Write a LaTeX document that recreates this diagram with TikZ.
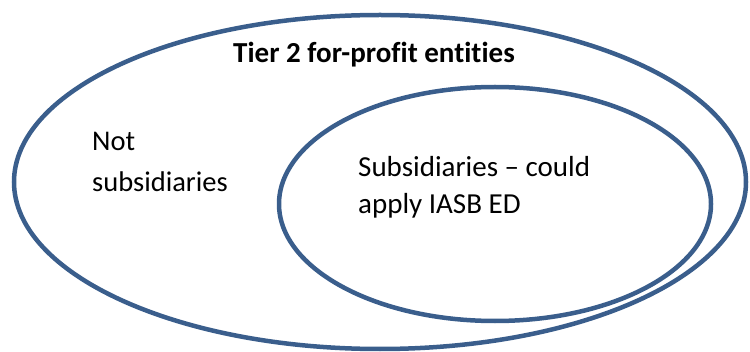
\documentclass[tikz,border=0pt]{standalone}
\usepackage{fontspec}
\setmainfont[Ligatures=NoCommon]{Carlito}
\usetikzlibrary{positioning,shapes.geometric}
\definecolor{setblue}{RGB}{58,94,140}
\tikzstyle{set} = [ellipse,draw=setblue,line width=4.5pt,inner sep=0]
\tikzstyle{lbl} = [anchor=base west,inner sep=0,align=left]

\begin{document}
\begin{tikzpicture}[x=1pt,y=1pt]

     \useasboundingbox (0,0) rectangle (750,351);

     % outer and inner sets
     \node[set,minimum width=732pt,minimum height=334pt] (tier) at (380,169) {};
     \node[set,minimum width=432pt,minimum height=234pt] (subs) at (495,147) {};

     \node[anchor=base,inner sep=0,font=\fontsize{29}{34}\selectfont\bfseries]
          (title) at (374,288) {Tier 2 for-profit entities};
     % base anchor sits on the last line
     \node[lbl,font=\fontsize{28.5}{41}\selectfont] (notsub) at (92,159)
          {Not\\subsidiaries};
     \node[lbl,font=\fontsize{29}{37}\selectfont] (sub) at (358,137)
          {Subsidiaries -- could\\apply IASB ED};

  \end{tikzpicture}
\end{document}
